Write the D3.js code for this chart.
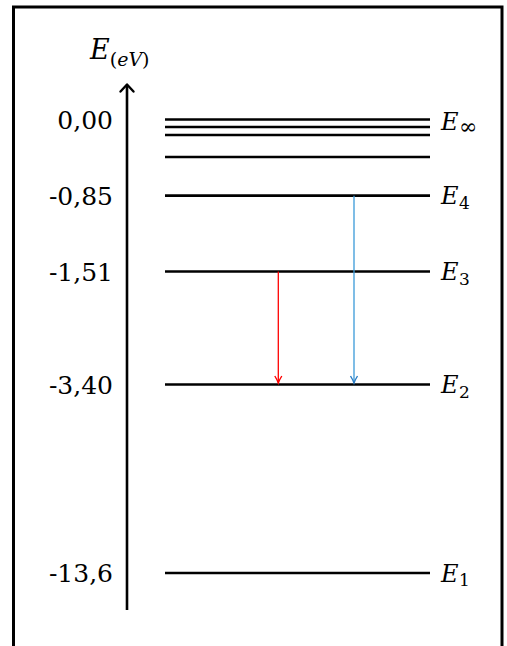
<!DOCTYPE html>
<html>
<head>
<meta charset="utf-8">
<script src="https://cdn.jsdelivr.net/npm/d3@7"></script>
<style>
  html, body { margin: 0; padding: 0; background: #fff; }
</style>
</head>
<body>
<div id="chart"></div>
<script>
// energy levels of hydrogen (eV), bottom to top
const energies = [-13.6, -3.40, -1.51, -0.85, -0.54, -0.38, -0.28, 0]
const levelNames = ["1", "2", "3", "4", "", "", "", "∞"]

// values shown on the axis
const tickValues = [0, -0.85, -1.51, -3.40, -13.6]
const tickLabels = ["0,00", "-0,85", "-1,51", "-3,40", "-13,6"]

// transitions drawn as arrows
const transFrom = [-1.51, -0.85]
const transTo = [-3.40, -3.40]
const transColors = ["#ff0000", "#3a9ad9"]
const headColors = ["#ff0000", "#2a7cc4"]

const width = 507
const height = 646
const serif = "'DejaVu Serif', serif"

const svg = d3.select("#chart")
  .append("svg")
  .attr("width", width)
  .attr("height", height)
  .style("font-family", serif)

// frame (bottom edge runs off the picture)
svg.append("rect")
  .attr("x", 13.5)
  .attr("y", 7)
  .attr("width", 488.5)
  .attr("height", 700)
  .attr("fill", "none")
  .attr("stroke", "#000")
  .attr("stroke-width", 3)

// schematic (non linear) energy scale
const y = d3.scaleLinear()
  .domain(energies)
  .range([573, 384.5, 271.5, 195.7, 157, 135, 127, 119.5])

const x = d3.scaleLinear()
  .domain([0, 1])
  .range([165, 430])

// vertical axis with arrow
const axisX = 127
svg.append("line")
  .attr("x1", axisX).attr("x2", axisX)
  .attr("y1", 610).attr("y2", 85)
  .attr("stroke", "#000")
  .attr("stroke-width", 2.6)
svg.append("path")
  .attr("d", `M${axisX - 6.5},${91.5} L${axisX},${84.5} L${axisX + 6.5},${91.5}`)
  .attr("fill", "none")
  .attr("stroke", "#000")
  .attr("stroke-width", 2.4)
  .attr("stroke-linecap", "round")
  .attr("stroke-linejoin", "round")

// axis title E_(eV)
const title = svg.append("text")
  .attr("x", 90)
  .attr("y", 59)
  .attr("font-size", 27)
title.append("tspan").attr("font-style", "italic").text("E")
const sub = title.append("tspan").attr("font-size", 19).attr("dy", 7)
sub.append("tspan").text("(")
sub.append("tspan").attr("font-style", "italic").text("eV")
sub.append("tspan").text(")")

// tick labels
svg.append("g")
  .selectAll("text")
  .data(tickValues)
  .join("text")
  .attr("x", 113)
  .attr("y", d => y(d) + 9)
  .attr("text-anchor", "end")
  .attr("font-size", 25)
  .text((d, i) => tickLabels[i])

// level lines
svg.append("g")
  .selectAll("line")
  .data(energies)
  .join("line")
  .attr("x1", x(0))
  .attr("x2", x(1))
  .attr("y1", d => y(d))
  .attr("y2", d => y(d))
  .attr("stroke", "#000")
  .attr("stroke-width", 2.7)

// level names
const names = svg.append("g")
  .selectAll("text")
  .data(energies.filter((d, i) => levelNames[i] !== ""))
  .join("text")
  .attr("x", 441)
  .attr("y", d => y(d) + (d === 0 ? 10 : 8.5))
  .attr("font-size", 24)
names.append("tspan").attr("font-style", "italic").text("E")
names.append("tspan")
  .attr("font-size", d => d === 0 ? 22 : 17)
  .attr("dx", 0.5)
  .attr("dy", d => d === 0 ? 4.5 : 4.5)
  .text(d => levelNames[energies.indexOf(d)])

// transition arrows
const arrowX = [278.3, 354]
const arrows = svg.append("g")
  .selectAll("g")
  .data(transFrom)
  .join("g")
arrows.append("line")
  .attr("x1", (d, i) => arrowX[i])
  .attr("x2", (d, i) => arrowX[i])
  .attr("y1", d => y(d))
  .attr("y2", (d, i) => y(transTo[i]) - 2)
  .attr("stroke", (d, i) => transColors[i])
  .attr("stroke-width", 1.3)
arrows.append("path")
  .attr("d", (d, i) => {
    const tx = arrowX[i], ty = y(transTo[i]) - 1.5
    return `M${tx - 3.5},${ty - 7} Q${tx - 1},${ty - 3} ${tx},${ty} Q${tx + 1},${ty - 3} ${tx + 3.5},${ty - 7}`
  })
  .attr("fill", "none")
  .attr("stroke", (d, i) => headColors[i])
  .attr("stroke-width", 1.4)
</script>
</body>
</html>
